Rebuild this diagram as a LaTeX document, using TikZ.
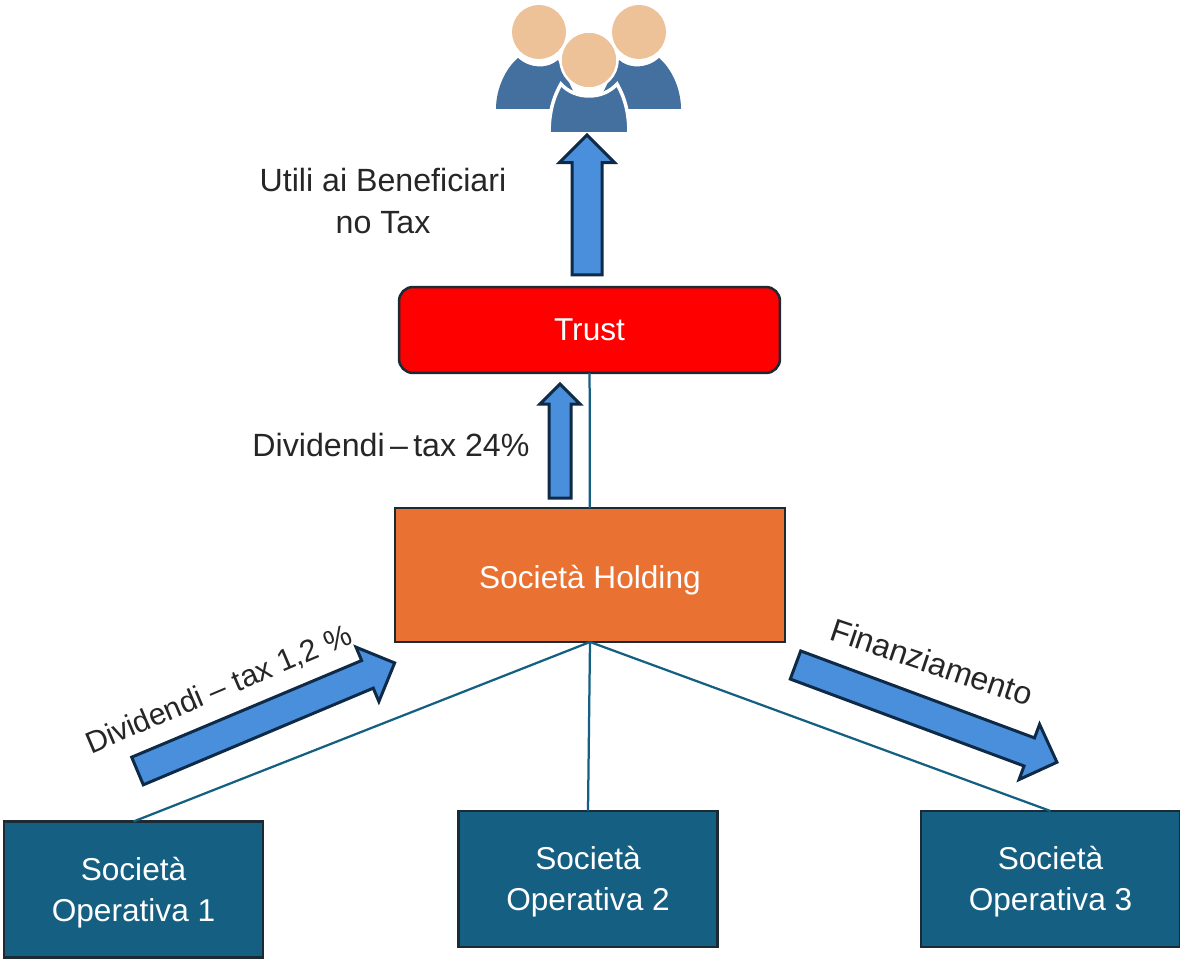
\documentclass[tikz,border=0pt]{standalone}
\usepackage{fontspec}
\setmainfont{Liberation Sans}
\usetikzlibrary{shapes.arrows}
\definecolor{opblue}{HTML}{156082}
\definecolor{holdorange}{HTML}{E97132}
\definecolor{arrowblue}{HTML}{4A8FDB}
\definecolor{arrowline}{HTML}{0E2A47}
\definecolor{skin}{HTML}{EDC299}
\definecolor{suit}{HTML}{44709F}
\definecolor{boxline}{HTML}{1C2A33}
\newcommand{\opname}[1]{\rule{0pt}{16.6pt}Società\\Operativa #1}
\begin{document}
\begin{tikzpicture}[x=0.02cm,y=-0.02cm]
			\tikzstyle{box} = [draw=boxline,line width=0.05cm,text=white,align=center,font=\fontsize{18}{23.5}\selectfont,outer sep=0pt]
			\tikzstyle{opbox} = [box,fill=opblue,minimum width=5.18cm,minimum height=2.72cm]
			\tikzstyle{flow} = [single arrow,draw=arrowline,fill=arrowblue,line width=0.06cm,anchor=tail,outer sep=0pt,inner xsep=0pt,inner ysep=0.27cm,single arrow head extend=0.29cm]
			\tikzstyle{lab} = [text=black!85,align=center,inner sep=0pt,font=\fontsize{18.3}{23.9}\selectfont]
			\tikzstyle{link} = [draw=opblue,line width=0.045cm]
			
			\useasboundingbox (0,0) rectangle (1180,959);
			
			% people
			\fill[suit] (496,109) .. controls (496,88) and (506,68) .. (518,58) .. controls (530,69) and (548,69) .. (558,60) -- (582,109) -- cycle;
			\fill[suit] (681,109) .. controls (681,88) and (671,68) .. (659,58) .. controls (647,69) and (629,69) .. (619,60) -- (595,109) -- cycle;
			\fill[skin] (539,32) circle (27);
			\fill[skin] (639,32) circle (27);
			\filldraw[draw=white,line width=0.07cm,fill=suit] (549,134) .. controls (549,113) and (553,98) .. (561,84) .. controls (575,100) and (603,100) .. (617,84) .. controls (625,98) and (629,113) .. (629,134) -- cycle;
			\filldraw[draw=white,line width=0.05cm,fill=skin] (589,60) circle (28.5);
			
			\node[box,fill=red,rounded corners=0.28cm,minimum width=7.62cm,minimum height=1.72cm] (trust) at (589.5,330) {Trust};
			\node[box,fill=holdorange,minimum width=7.8cm,minimum height=2.68cm,text height=0.66cm,text depth=0.134cm] (hold) at (590,575) {Società Holding};
			\node[opbox] (op1) at (133.5,889.5) {\opname{1}};
			\node[opbox] (op2) at (588,879) {\opname{2}};
			\node[opbox] (op3) at (1050.5,879) {\opname{3}};
			
			\path (trust) edge[link] (hold);
			\path (hold.south) edge[link] (op1.north);
			\path (hold.south) edge[link] (op2.north);
			\path (hold.south) edge[link] (op3.north);
			
			\node[flow,rotate=90,minimum height=2.8cm,single arrow head extend=0.25cm] (up1) at (587,275) {};
			\node[flow,rotate=90,minimum height=2.28cm,inner ysep=0.19cm,single arrow head extend=0.18cm] (up2) at (560,498) {};
			\node[flow,rotate=22.8,minimum height=5.58cm] (left) at (137.5,771) {};
			\node[flow,rotate=-20.4,minimum height=5.58cm] (right) at (795.5,665) {};
			
			\node[lab] (utili) at (383,201) {Utili ai Beneficiari\\no Tax};
			\node[lab] (div1) at (391,445) {Dividendi\,--\,tax 24\%};
			\node[lab,font=\fontsize{17.3}{23}\selectfont,rotate=23] (div2) at (219,690) {Dividendi -- tax 1,2 \%};
			\node[lab,rotate=-18.6] (fin) at (932,662) {Finanziamento};
		\end{tikzpicture}
\end{document}
